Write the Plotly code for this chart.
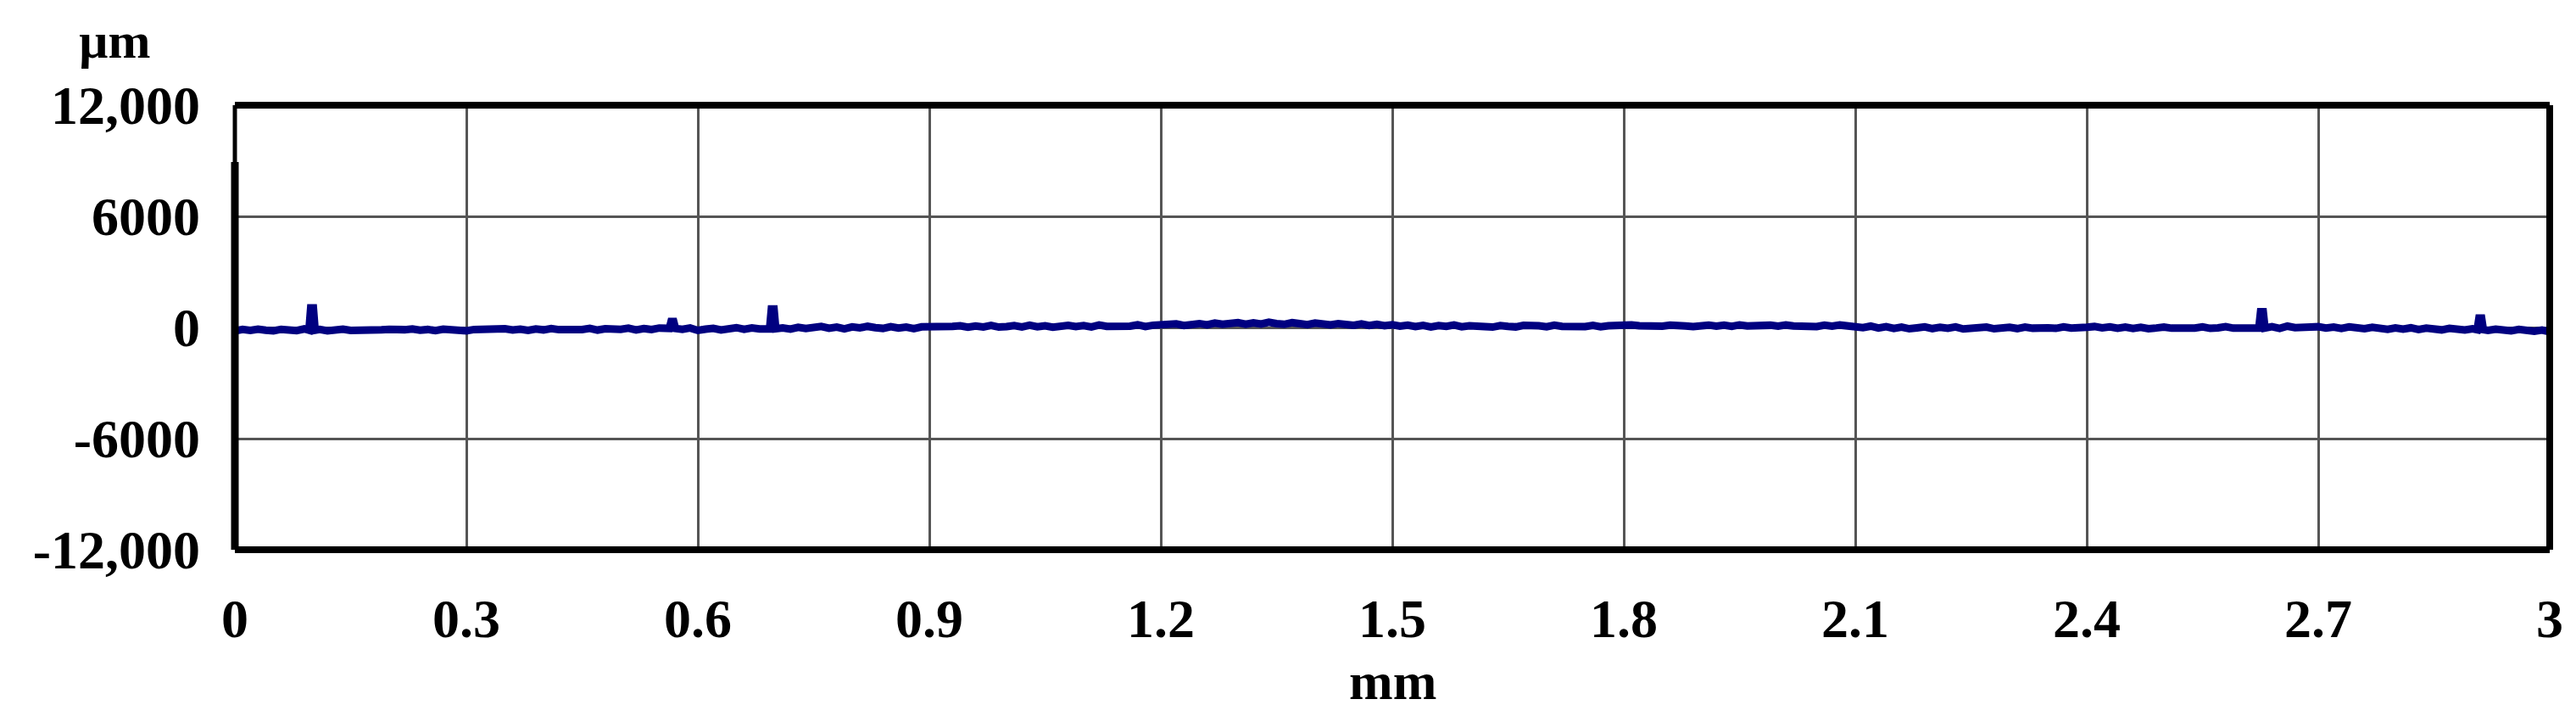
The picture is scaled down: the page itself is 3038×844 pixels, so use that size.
import pandas as pd
import plotly.graph_objects as go

# Surface profile (mm along, um height)
# base profile sampled every 0.01 mm from 0 to 3 mm
profile_um = [
    -190, -110, -160, -90, -150, -180, -100, -140, -170, -80,
    -150, -110, -180, -120, -90, -160, -170, -110, -190, -130,
    -100, -160, -120, -80, -150, -110, -170, -90, -140, -160,
    -180, -110, -80, -150, -100, -70, -140, -90, -160, -80,
    -130, -60, -120, -150, -80, -110, -50, -140, -70, -120,
    -100, -40, -130, -60, -110, -30, -90, -50, -100, -30,
    -160, -90, -50, -130, -70, -10, -100, -30, -80, 0,
    -70, -20, -90, 10, -60, -10, 50, -40, 20, -70,
    30, -20, 60, -10, -50, 40, -30, 20, -60, 30,
    20, 70, -20, 60, 90, 10, 80, 30, 110, 20,
    50, 100, 30, 120, 40, 90, 10, 80, 110, 50,
    100, 30, 130, 60, 40, 110, 70, 140, 50, 120,
    150, 80, 190, 110, 170, 210, 140, 240, 170, 220,
    260, 180, 250, 190, 280, 210, 170, 260, 200, 150,
    240, 180, 140, 210, 160, 120, 190, 110, 170, 90,
    150, 70, 120, 50, 110, 30, 100, 60, 130, 40,
    90, 110, 50, 20, 100, 60, 30, 110, 50, 90,
    40, 120, 60, 30, 100, 50, 110, 40, 90, 120,
    80, 140, 90, 60, 130, 70, 120, 150, 80, 50,
    110, 130, 70, 120, 60, 140, 80, 110, 50, 120,
    70, 130, 80, 60, 110, 50, 120, 70, 130, 80,
    60, -10, 70, -30, 40, -50, 20, -70, -20, 30,
    -60, 10, -40, 30, -80, -20, -50, 20, -70, -30,
    10, -60, 20, -40, -80, -20, -50, 30, -30, -60,
    10, 50, -20, 30, -40, 20, -50, 10, -70, -30,
    20, -40, -60, 10, -30, 30, -50, -20, 40, -40,
    -20, -60, 20, -30, 40, -50, 70, -10, -40, 20,
    40, -30, 20, -50, 30, -20, -70, 10, -40, -100,
    -30, -90, -20, -110, -40, -80, -130, -50, -100, -140,
    -70, -120, -160, -90, -150, -180, -110, -170, -200, -140,
    -230,
]
profile_mm = [i / 100 for i in range(len(profile_um))]

# narrow asperities sticking out of the profile
spike_mm = [0.100, 0.567, 0.697, 2.627, 2.910]
spike_um = [1050, 320, 1000, 850, 500]

x_ticks = [0, 0.3, 0.6, 0.9, 1.2, 1.5, 1.8, 2.1, 2.4, 2.7, 3]
x_labels = ["0", "0.3", "0.6", "0.9", "1.2", "1.5", "1.8", "2.1", "2.4", "2.7", "3"]
y_ticks = [-12000, -6000, 0, 6000, 12000]
y_labels = ["-12,000", "-6000", "0", "6000", "12,000"]

# merge spikes into the base profile
df = pd.DataFrame({"mm": profile_mm, "um": profile_um})
extra = []
for c, top in zip(spike_mm, spike_um):
    foot = profile_um[round(c * 100)]
    df = df[(df["mm"] - c).abs() >= 0.005]
    extra += [(c - 0.004, foot), (c - 0.0017, top), (c + 0.0017, top), (c + 0.004, foot)]
df = pd.concat([df, pd.DataFrame(extra, columns=["mm", "um"])]).sort_values("mm")

FONT = "Liberation Serif"

fig = go.Figure(go.Scatter(x=df["mm"], y=df["um"], mode="lines",
                           line=dict(color="#000080", width=9)))

# page body adds an 8 px margin, so the figure is a bit smaller than the window
fig.update_layout(
    width=3030, height=836,
    margin=dict(l=269, r=31, t=116, b=196),
    plot_bgcolor="white", paper_bgcolor="white",
    showlegend=False,
    font=dict(family=FONT, color="black"),
)
fig.update_xaxes(range=[0, 3], tickvals=x_ticks, ticktext=x_labels,
                 showgrid=True, gridcolor="#555555", gridwidth=2.5,
                 zeroline=False, showline=False, ticks="",
                 ticklabelstandoff=38,
                 tickfont=dict(family=FONT, size=64, weight="bold"))
fig.update_yaxes(range=[-12000, 12000], tickvals=y_ticks, ticktext=y_labels,
                 showgrid=True, gridcolor="#555555", gridwidth=2.5,
                 zeroline=False, showline=False, ticks="",
                 ticklabelstandoff=40,
                 tickfont=dict(family=FONT, size=64, weight="bold"))

# heavy frame round the plot area
for x0, y0, x1, y1, w in [(0, 1, 1, 1, 8), (1, 0, 1, 1, 8), (0, 0, 1, 0, 8),
                          (0, 0, 0, 0.872, 9), (0, 0.872, 0, 1, 5)]:
    fig.add_shape(type="line", xref="paper", yref="paper",
                  x0=x0, y0=y0, x1=x1, y1=y1, line=dict(color="black", width=w))

fig.add_annotation(text="µm", xref="paper", yref="paper", x=-0.0517, y=1.145,
                   showarrow=False, xanchor="center", yanchor="middle",
                   font=dict(family=FONT, size=60, weight="bold"))
fig.add_annotation(text="mm", xref="paper", yref="paper", x=0.5, y=-0.295,
                   showarrow=False, xanchor="center", yanchor="middle",
                   font=dict(family=FONT, size=62, weight="bold"))

fig.write_html("out.html")
